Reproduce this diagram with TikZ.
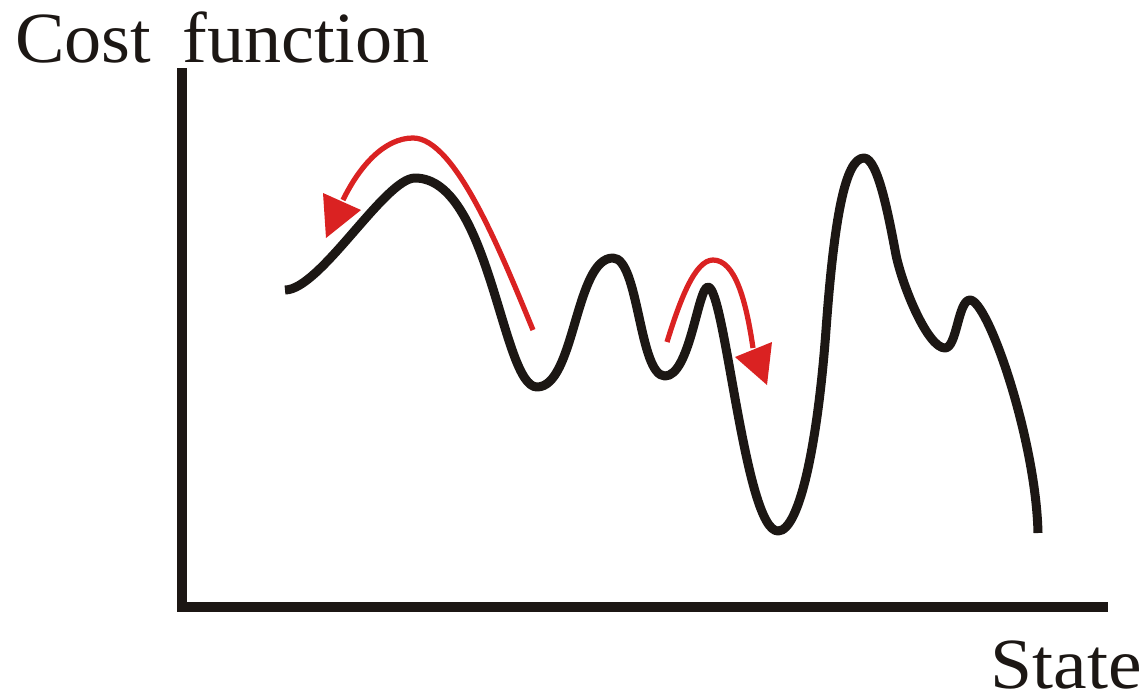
\documentclass[tikz,border=0pt]{standalone}
\usepackage{fontspec}
\setmainfont{Liberation Serif}
\definecolor{ink}{HTML}{1C1714}
\definecolor{arrowred}{HTML}{DA2222}
\begin{document}
\begin{tikzpicture}[x=0.02cm,y=-0.02cm,
  axisline/.style={line width=0.2cm,draw=ink,line join=miter},
  costcurve/.style={line width=0.18cm,draw=ink,line cap=butt,line join=round},
  moveline/.style={line width=0.105cm,draw=arrowred},
  movehead/.style={fill=arrowred,draw=none},
  lbl/.style={inner sep=0pt,font=\fontsize{41}{41}\selectfont,text=ink}]
\useasboundingbox (0,0) rectangle (1147,694);
% axes
\coordinate (ytop) at (182,68);
\coordinate (origin) at (182,607);
\coordinate (xend) at (1108,607);
\draw[axisline] (ytop) -- (origin) -- (xend);
% labels
\node[lbl,anchor=base west] (ylabel) at (15,62) {\scalebox{1.03}[1]{Cost\hspace{0.42em}function}};
\node[lbl,anchor=base east] (xlabel) at (1142,688) {\scalebox{1.05}[1]{State}};
% cost curve
\draw[costcurve] (285,290)
  .. controls (320,290) and (385,178) .. (415,178)
  .. controls (490,178) and (502,387) .. (537,387)
  .. controls (575,387) and (575,258) .. (613,258)
  .. controls (639,258) and (639,376) .. (665,376)
  .. controls (690,376) and (698,287) .. (708,287)
  .. controls (725,287) and (745,531) .. (778,531)
  .. controls (800,531) and (818,440) .. (826,330)
  .. controls (834,220) and (845,158) .. (864,158)
  .. controls (878,158) and (889,218) .. (896,255)
  .. controls (903,288) and (928,348) .. (945,348)
  .. controls (957,348) and (958,300) .. (970,300)
  .. controls (988,300) and (1036,440) .. (1038,533);
% red arrows
\draw[moveline] (533,330) .. controls (500,250) and (455,138) .. (413,138)
  .. controls (385,138) and (360,165) .. (343,200);
\fill[movehead] (323,193) -- (361,210) -- (326,238) -- cycle;
\draw[moveline] (667,342) .. controls (680,300) and (695,260) .. (713,260)
  .. controls (735,260) and (746,300) .. (753,348);
\fill[movehead] (735,357) -- (772,342) -- (767,385) -- cycle;
\end{tikzpicture}
\end{document}
